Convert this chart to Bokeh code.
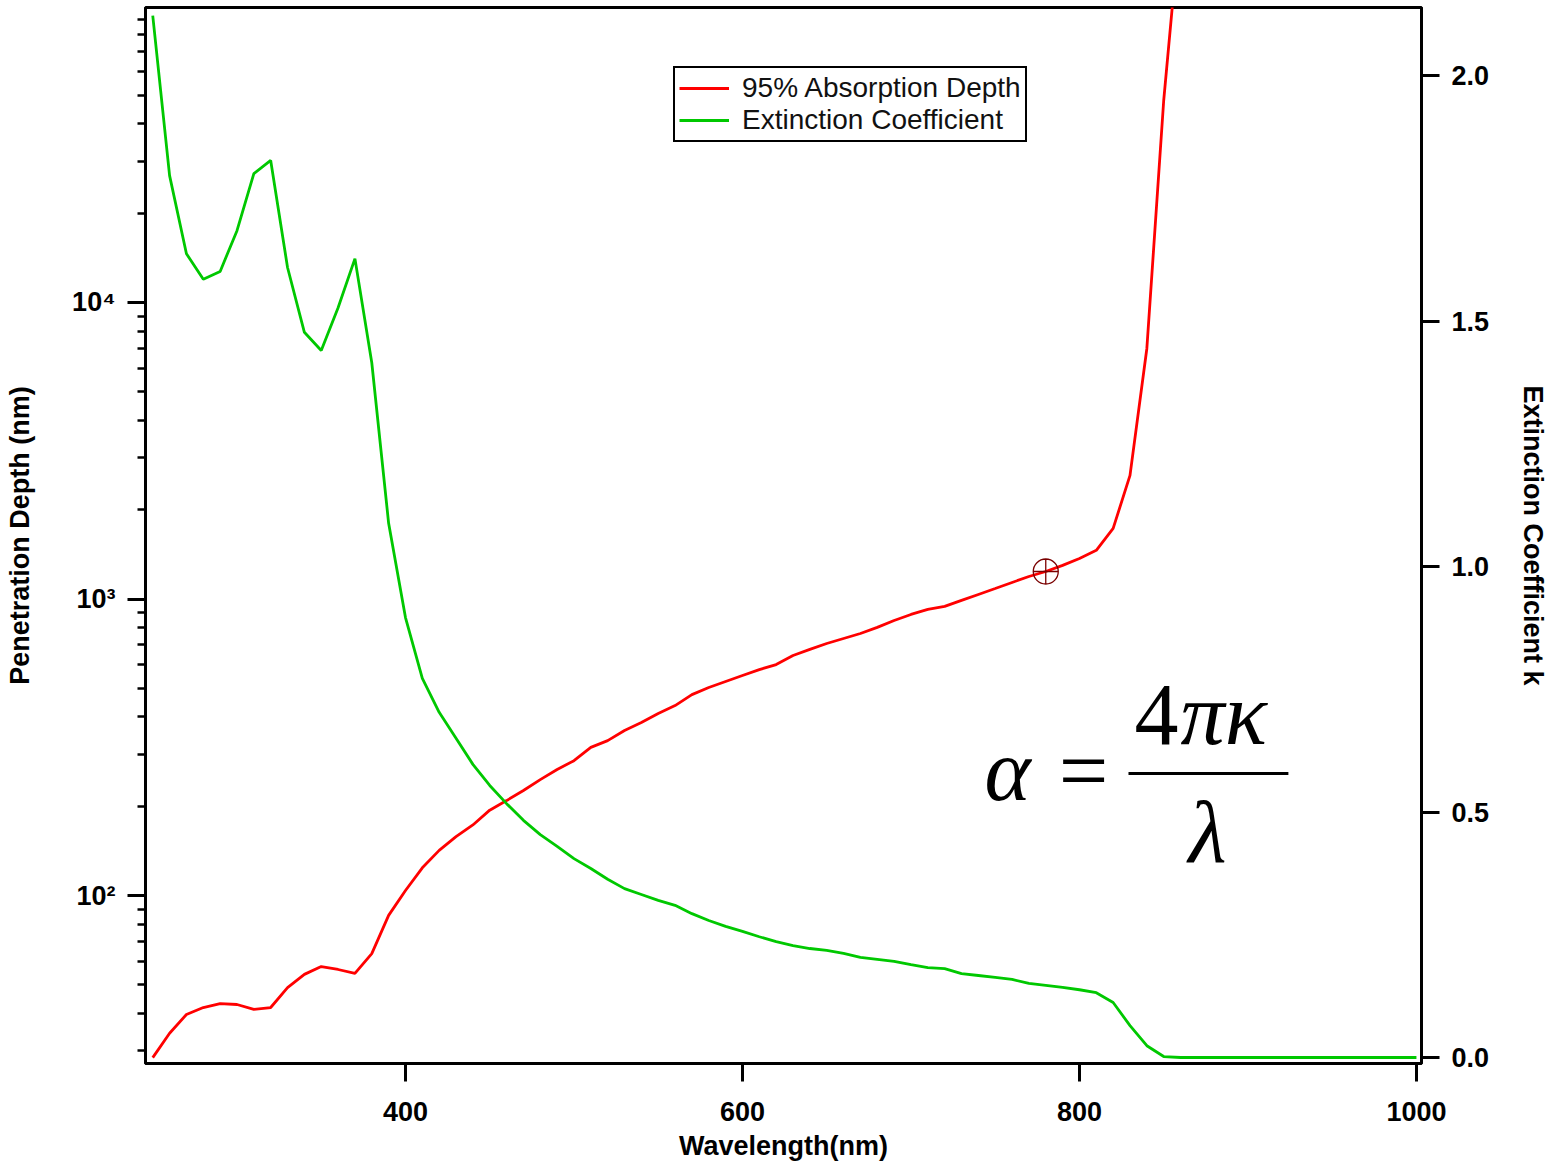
from bokeh.plotting import figure
from bokeh.models import (Range1d, LinearAxis, LinearScale, FixedTicker, Legend,
                          LegendItem, Label, Arrow, PrintfTickFormatter)
from bokeh.embed import file_html
from bokeh.resources import INLINE

NAN = float("nan")

# ---------------- data ----------------
wavelength = [250, 260, 270, 280, 290, 300, 310, 320, 330, 340,
              350, 360, 370, 380, 390, 400, 410, 420, 430, 440,
              450, 460, 470, 480, 490, 500, 510, 520, 530, 540,
              550, 560, 570, 580, 590, 600, 610, 620, 630, 640,
              650, 660, 670, 680, 690, 700, 710, 720, 730, 740,
              750, 760, 770, 780, 790, 800, 810, 820, 830, 840,
              850, 860, 870, 880, 890, 900, 910, 920, 930, 940,
              950, 960, 970, 980, 990, 1000]

# 95% absorption depth (nm) - left log axis
depth = [28.4, 34.3, 39.7, 41.9, 43.2, 42.9, 41.3, 41.9, 48.9, 54.2,
         57.6, 56.3, 54.6, 63.7, 85.7, 104, 124, 142, 158, 173,
         194, 209, 226, 246, 266, 285, 316, 333, 360, 383,
         411, 437, 476, 503, 527, 552, 578, 601, 645, 676,
         708, 736, 765, 802, 846, 887, 922, 944, 989, 1036,
         1085, 1137, 1191, 1238, 1298, 1370, 1459, 1730, 2612, 6998,
         48000, 200000, NAN, NAN, NAN, NAN, NAN, NAN, NAN, NAN,
         NAN, NAN, NAN, NAN, NAN, NAN]

# extinction coefficient k - right axis
kappa = [2.122, 1.796, 1.637, 1.585, 1.601, 1.684, 1.800, 1.827, 1.609, 1.477,
         1.440, 1.527, 1.627, 1.415, 1.088, 0.896, 0.772, 0.703, 0.650, 0.597,
         0.554, 0.517, 0.483, 0.454, 0.430, 0.405, 0.385, 0.363, 0.344, 0.332,
         0.320, 0.310, 0.293, 0.279, 0.267, 0.257, 0.246, 0.236, 0.228, 0.222,
         0.218, 0.212, 0.204, 0.200, 0.196, 0.189, 0.183, 0.181, 0.171, 0.167,
         0.163, 0.159, 0.151, 0.147, 0.143, 0.138, 0.132, 0.112, 0.065, 0.024,
         0.002, 0.0, 0.0, 0.0, 0.0, 0.0, 0.0, 0.0, 0.0, 0.0,
         0.0, 0.0, 0.0, 0.0, 0.0, 0.0]

cursor_wavelength = 780
cursor_depth = depth[wavelength.index(cursor_wavelength)]

x_ticks = [400, 600, 800, 1000]
depth_ticks = [100, 1000, 10000]
depth_tick_labels = ["10²", "10³", "10⁴"]
depth_minor_ticks = [m * 10 ** e for e in range(1, 5) for m in range(2, 10)]
k_ticks = [0.0, 0.5, 1.0, 1.5, 2.0]

series_names = ["95% Absorption Depth", "Extinction Coefficient"]

# ---------------- figure ----------------
FONT = "Liberation Sans"

p = figure(frame_width=1276, frame_height=1056,
           x_range=Range1d(245.7, 1003.0),
           y_range=Range1d(27.13, 98830),
           y_axis_type="log",
           output_backend="svg", toolbar_location=None,
           min_border_left=145, min_border_right=128,
           min_border_top=7, min_border_bottom=99)
p.extra_y_ranges = {"k": Range1d(-0.0122, 2.1385)}
p.extra_y_scales = {"k": LinearScale()}
p.xgrid.visible = False
p.ygrid.visible = False
p.outline_line_color = "black"
p.outline_line_width = 3
p.outline_line_alpha = 1
p.background_fill_color = "white"
p.border_fill_color = "white"


def style_axis(ax):
    ax.axis_line_width = 3
    ax.axis_line_color = "black"
    ax.major_tick_line_width = 3
    ax.major_tick_in = 0
    ax.major_tick_out = 18
    ax.minor_tick_in = 0
    ax.minor_tick_out = 0
    ax.major_label_text_font = FONT
    ax.major_label_text_font_style = "bold"
    ax.major_label_text_font_size = "27px"
    ax.major_label_text_color = "black"
    ax.axis_label_text_font = FONT
    ax.axis_label_text_font_style = "bold"
    ax.axis_label_text_font_size = "27px"
    ax.axis_label_text_color = "black"


# x axis
xa = p.xaxis[0]
style_axis(xa)
xa.ticker = FixedTicker(ticks=x_ticks, minor_ticks=[])
xa.axis_label = "Wavelength(nm)"
xa.major_label_standoff = 20
xa.axis_label_standoff = 7

# left log axis
ya = p.yaxis[0]
style_axis(ya)
ya.ticker = FixedTicker(ticks=depth_ticks, minor_ticks=depth_minor_ticks)
ya.major_label_overrides = {t: s for t, s in zip(depth_ticks, depth_tick_labels)}
ya.minor_tick_out = 8
ya.minor_tick_line_width = 2.5
ya.axis_label = "Penetration Depth (nm)"
ya.major_label_standoff = 12
ya.axis_label_standoff = 34

# right axis
ra = LinearAxis(y_range_name="k", ticker=FixedTicker(ticks=k_ticks, minor_ticks=[]),
                formatter=PrintfTickFormatter(format="%.1f"),
                axis_label="Extinction Coefficient k")
style_axis(ra)
ra.major_label_standoff = 12
ra.axis_label_standoff = 26
p.add_layout(ra, "right")

# ---------------- series ----------------
r_red = p.line(wavelength, depth, line_color="#ff0000", line_width=2.8)
r_green = p.line(wavelength, kappa, line_color="#00c800", line_width=2.8,
                 y_range_name="k")

p.scatter([cursor_wavelength], [cursor_depth], marker="circle_cross", size=25,
          fill_alpha=0, line_color="#7a0000", line_width=1.3)

legend = Legend(items=[LegendItem(label=series_names[0], renderers=[r_red]),
                       LegendItem(label=series_names[1], renderers=[r_green])],
                location=(528, 921),
                border_line_color="black", border_line_width=2,
                border_line_alpha=1,
                background_fill_color="white", background_fill_alpha=1,
                label_text_font=FONT, label_text_font_size="28px",
                label_text_color="#111111",
                glyph_width=50, glyph_height=28, label_height=28,
                padding=4, spacing=0, margin=0, label_standoff=13)
p.add_layout(legend)

# ---------------- formula ----------------
SERIF = "Liberation Serif"
FS = "88px"


def formula_label(x, y, text, align, italic=True):
    p.add_layout(Label(x=x, y=y, y_range_name="k", text=text,
                       text_font=SERIF, text_font_size=FS,
                       text_font_style="italic" if italic else "normal",
                       text_align=align, text_baseline="alphabetic",
                       text_color="black"))


formula_label(757.3, 0.5845, "α", "center")
formula_label(802.4, 0.5845, "=", "center", italic=False)
formula_label(858.8, 0.6985, "4", "right", italic=False)
formula_label(860.0, 0.6985, "πκ", "left")
formula_label(876.0, 0.4582, "λ", "center")
p.add_layout(Arrow(start=None, end=None, x_start=829.1, y_start=0.5784,
                   x_end=924.0, y_end=0.5784, line_width=3, line_color="black",
                   y_range_name="k"))

open("out.html", "w").write(file_html(p, INLINE))
